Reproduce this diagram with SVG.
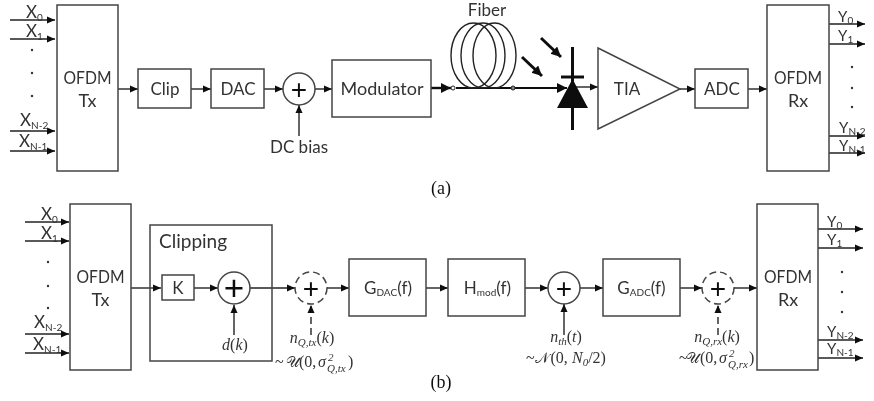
<svg xmlns="http://www.w3.org/2000/svg" width="874" height="401" viewBox="0 0 874 401">
<style>
.b{fill:#fff;stroke:#444;stroke-width:1.5}
.c{fill:none;stroke:#222;stroke-width:1.4}
.a{marker-end:url(#ah)}
.d{stroke-dasharray:7 4}
.t{font-family:Lato,"Liberation Sans",sans-serif;font-size:17px;fill:#333;text-anchor:middle}
.o{font-size:18px}
.s{font-family:Lato,"Liberation Sans",sans-serif;font-size:17px;fill:#333}
.y{font-size:15px}
.u{font-size:10px}
.m{font-family:"Liberation Serif",serif;font-size:16px;fill:#333}
.i{font-style:italic}
.mu{font-size:11px;font-style:italic}
.sc{font-size:15px;font-style:normal}
.cap{font-family:"Liberation Serif",serif;font-size:18px;fill:#111;text-anchor:middle}
.p{font-family:"Liberation Sans",sans-serif;font-size:28px;fill:#111;text-anchor:middle}
.pb{font-size:35px}
.dot{fill:#333}
</style>
<defs>
<marker id="ah" markerUnits="userSpaceOnUse" markerWidth="8" markerHeight="8" refX="8" refY="4" orient="auto"><path d="M0 0.5L8 4L0 7.5Z" fill="#111"/></marker>
<marker id="ahb" markerUnits="userSpaceOnUse" markerWidth="11" markerHeight="11" refX="10" refY="5" orient="auto"><path d="M0 0L10 5L0 10Z" fill="#111"/></marker>
<filter id="soft" x="0" y="0" width="100%" height="100%"><feGaussianBlur stdDeviation="0.4"/></filter>
</defs>
<rect width="874" height="401" fill="#fff"/>
<g filter="url(#soft)">
<g id="connectors">
<path class="c a" d="M10 20H55"/><path class="c a" d="M10 39H55"/><path class="c a" d="M10 131H55"/><path class="c a" d="M10 151H55"/>
<path class="c a" d="M118 89H138"/>
<path class="c a" d="M191 89H211"/>
<path class="c a" d="M264 89H283"/>
<path class="c a" d="M315 89H332"/>
<path class="c a" d="M299 136V105"/>
<path d="M431 88H451" fill="none" stroke="#111" stroke-width="2.4" marker-end="url(#ahb)"/>
<path d="M456 88H567" fill="none" stroke="#111" stroke-width="2" marker-end="url(#ahb)"/>
<path d="M541 38L561 57" fill="none" stroke="#111" stroke-width="3" marker-end="url(#ahb)"/>
<path d="M522 57L542 76" fill="none" stroke="#111" stroke-width="3" marker-end="url(#ahb)"/>
<path class="c a" d="M574 87H598"/>
<path class="c a" d="M680 89H695"/>
<path class="c a" d="M748 89H767"/>
<path class="c a" d="M829 24H865"/><path class="c a" d="M829 44H865"/><path class="c a" d="M829 136H865"/><path class="c a" d="M829 153H865"/>
<path class="c a" d="M25 222H69"/><path class="c a" d="M25 241H69"/><path class="c a" d="M25 334H69"/><path class="c a" d="M25 353H69"/>
<path class="c a" d="M131 288H161"/>
<path class="c a" d="M194 288H218"/>
<path class="c a" d="M250 288H295"/>
<path class="c a" d="M327 288H349"/>
<path class="c a" d="M234 335V305"/>
<path class="c a d" d="M311 335V305"/>
<path class="c a" d="M426 288H448"/>
<path class="c a" d="M525 288H548"/>
<path class="c a" d="M580 288H603"/>
<path class="c a" d="M564 335V304"/>
<path class="c a" d="M680 288H702"/>
<path class="c a" d="M734 288H757"/>
<path class="c a d" d="M718 335V305"/>
<path class="c a" d="M818 229H863"/><path class="c a" d="M818 248H863"/><path class="c a" d="M818 340H863"/><path class="c a" d="M818 358H863"/>
</g>

<g id="inputs-a">
<text class="s" x="26" y="18">X<tspan class="u" dy="3">0</tspan></text>
<text class="s" x="26" y="37">X<tspan class="u" dy="3">1</tspan></text>
<text class="s" x="20" y="126">X<tspan class="u" dy="3">N-2</tspan></text>
<text class="s" x="19" y="147">X<tspan class="u" dy="3">N-1</tspan></text>
<circle class="dot" cx="32" cy="50" r="1.2"/><circle class="dot" cx="32" cy="73" r="1.2"/><circle class="dot" cx="32" cy="96" r="1.2"/>
</g>
<g id="tx-a"><rect class="b" x="57" y="5" width="61" height="166"/><text class="t o" x="87.500" y="84" textLength="48" lengthAdjust="spacingAndGlyphs">OFDM</text><text class="t o" x="87.500" y="107">Tx</text></g>
<g id="clip"><rect class="b" x="138" y="69" width="53" height="39"/><text class="t" x="165" y="95">Clip</text></g>
<g id="dac"><rect class="b" x="211" y="69" width="53" height="39"/><text class="t" x="238" y="95">DAC</text></g>
<g id="sum-a"><circle class="b" cx="299" cy="89" r="16"/><text class="p" x="299" y="99">+</text></g>
<g id="dc-bias"><text class="t" x="299" y="153">DC bias</text></g>
<g id="modulator"><rect class="b" x="332" y="60" width="99" height="57"/><text class="t o" x="382" y="95">Modulator</text></g>
<g id="fiber">
<ellipse class="c" cx="473.500" cy="55.500" rx="22.500" ry="32.500"/>
<ellipse class="c" cx="483" cy="55.500" rx="22" ry="32.500"/>
<ellipse class="c" cx="494.500" cy="55.500" rx="21.500" ry="32.500"/>
<circle cx="453" cy="88" r="2" fill="#fff" stroke="#222" stroke-width="1"/>
<circle cx="513" cy="88" r="2" fill="#888" stroke="#222" stroke-width="1"/>
<text class="t" x="487" y="16">Fiber</text>
</g>
<g id="photodiode">
<path d="M572.500 47V130" stroke="#111" stroke-width="3" fill="none"/>
<path d="M561 77H584" stroke="#111" stroke-width="3" fill="none"/>
<path d="M572.500 79L588 108H557Z" fill="#111"/>
</g>
<g id="tia"><path class="b" d="M598 48L680 89L598 129Z"/><text class="t" x="627" y="95">TIA</text></g>
<g id="adc"><rect class="b" x="695" y="69" width="53" height="39"/><text class="t" x="722" y="95">ADC</text></g>
<g id="rx-a"><rect class="b" x="767" y="5" width="62" height="166"/><text class="t o" x="798" y="84" textLength="48" lengthAdjust="spacingAndGlyphs">OFDM</text><text class="t o" x="798" y="107">Rx</text></g>
<g id="outputs-a">
<text class="s y" x="838" y="22">Y<tspan class="u" dy="2">0</tspan></text>
<text class="s y" x="838" y="41">Y<tspan class="u" dy="2">1</tspan></text>
<text class="s y" x="839" y="133">Y<tspan class="u" dy="2">N-2</tspan></text>
<text class="s y" x="839" y="151">Y<tspan class="u" dy="2">N-1</tspan></text>
<circle class="dot" cx="852" cy="67" r="1.2"/><circle class="dot" cx="852" cy="88" r="1.2"/><circle class="dot" cx="852" cy="107" r="1.2"/>
</g>
<text class="cap" x="441" y="194">(a)</text>

<g id="inputs-b">
<text class="s" x="41" y="220">X<tspan class="u" dy="3">0</tspan></text>
<text class="s" x="41" y="239">X<tspan class="u" dy="3">1</tspan></text>
<text class="s" x="34" y="328">X<tspan class="u" dy="3">N-2</tspan></text>
<text class="s" x="33" y="350">X<tspan class="u" dy="3">N-1</tspan></text>
<circle class="dot" cx="48" cy="262" r="1.2"/><circle class="dot" cx="48" cy="286" r="1.2"/><circle class="dot" cx="48" cy="308" r="1.2"/>
</g>
<g id="tx-b"><rect class="b" x="70" y="204" width="61" height="166"/><text class="t o" x="100.500" y="283" textLength="48" lengthAdjust="spacingAndGlyphs">OFDM</text><text class="t o" x="100.500" y="306">Tx</text></g>
<g id="clipping"><rect class="b" x="150" y="225" width="122" height="136" style="fill:none"/><text class="s" x="159" y="248" style="font-size:19px">Clipping</text></g>
<g id="k"><rect class="b" x="162" y="275" width="32" height="25"/><text class="t" x="178" y="294">K</text></g>
<g id="sum-clip"><circle class="b" cx="234" cy="288" r="16"/><text class="p pb" x="234" y="300">+</text></g>
<g id="dk"><text class="m" x="235" y="350" text-anchor="middle"><tspan class="i">d</tspan>(<tspan class="i">k</tspan>)</text></g>
<g id="sum-qtx"><circle class="b" cx="311" cy="288" r="16" style="stroke-dasharray:7 4"/><text class="p" x="311" y="298">+</text></g>
<g id="nqtx">
<text class="m" x="312" y="343" text-anchor="middle"><tspan class="i">n</tspan><tspan class="mu" dy="3">Q,tx</tspan><tspan dy="-3">(</tspan><tspan class="i">k</tspan>)</text>
<text class="m" x="275" y="367">~<tspan class="sc" x="285.500">𝒰</tspan><tspan x="299">(0,</tspan><tspan class="i" x="318">σ</tspan><tspan class="mu" x="328" y="361">2</tspan><tspan class="mu" x="327" y="372">Q,tx</tspan><tspan x="348" y="367">)</tspan></text>
</g>
<g id="gdac"><rect class="b" x="349" y="259" width="77" height="57"/><text class="t" x="388" y="294">G<tspan class="u" dy="2">DAC</tspan><tspan dy="-2">(f)</tspan></text></g>
<g id="hmod"><rect class="b" x="448" y="259" width="77" height="57"/><text class="t" x="487.500" y="294">H<tspan class="u" dy="2">mod</tspan><tspan dy="-2">(f)</tspan></text></g>
<g id="sum-th"><circle class="b" cx="564" cy="288" r="16"/><text class="p" x="564" y="298">+</text></g>
<g id="nth">
<text class="m" x="566" y="342" text-anchor="middle"><tspan class="i">n</tspan><tspan class="mu" dy="3">th</tspan><tspan dy="-3">(</tspan><tspan class="i">t</tspan>)</text>
<text class="m" x="526" y="363">~<tspan class="sc" x="534.500">𝒩</tspan><tspan x="550.500">(0,</tspan><tspan class="i" x="572">N</tspan><tspan class="mu" dy="3">0</tspan><tspan dy="-3">/2)</tspan></text>
</g>
<g id="gadc"><rect class="b" x="603" y="259" width="77" height="57"/><text class="t" x="641.500" y="294">G<tspan class="u" dy="2">ADC</tspan><tspan dy="-2">(f)</tspan></text></g>
<g id="sum-qrx"><circle class="b" cx="718" cy="288" r="16" style="stroke-dasharray:7 4"/><text class="p" x="718" y="298">+</text></g>
<g id="nqrx">
<text class="m" x="717" y="342" text-anchor="middle"><tspan class="i">n</tspan><tspan class="mu" dy="3">Q,rx</tspan><tspan dy="-3">(</tspan><tspan class="i">k</tspan>)</text>
<text class="m" x="679" y="363">~<tspan class="sc" x="685.500">𝒰</tspan><tspan x="700">(0,</tspan><tspan class="i" x="719">σ</tspan><tspan class="mu" x="729" y="357">2</tspan><tspan class="mu" x="728" y="368">Q,rx</tspan><tspan x="749" y="363">)</tspan></text>
</g>
<g id="rx-b"><rect class="b" x="757" y="204" width="61" height="166"/><text class="t o" x="788" y="283" textLength="48" lengthAdjust="spacingAndGlyphs">OFDM</text><text class="t o" x="788" y="306">Rx</text></g>
<g id="outputs-b">
<text class="s y" x="827" y="227">Y<tspan class="u" dy="2">0</tspan></text>
<text class="s y" x="827" y="245">Y<tspan class="u" dy="2">1</tspan></text>
<text class="s y" x="827" y="337">Y<tspan class="u" dy="2">N-2</tspan></text>
<text class="s y" x="827" y="354">Y<tspan class="u" dy="2">N-1</tspan></text>
<circle class="dot" cx="842" cy="272" r="1.2"/><circle class="dot" cx="842" cy="292" r="1.2"/><circle class="dot" cx="842" cy="312" r="1.2"/>
</g>
<text class="cap" x="441" y="388">(b)</text>
</g>
</svg>
